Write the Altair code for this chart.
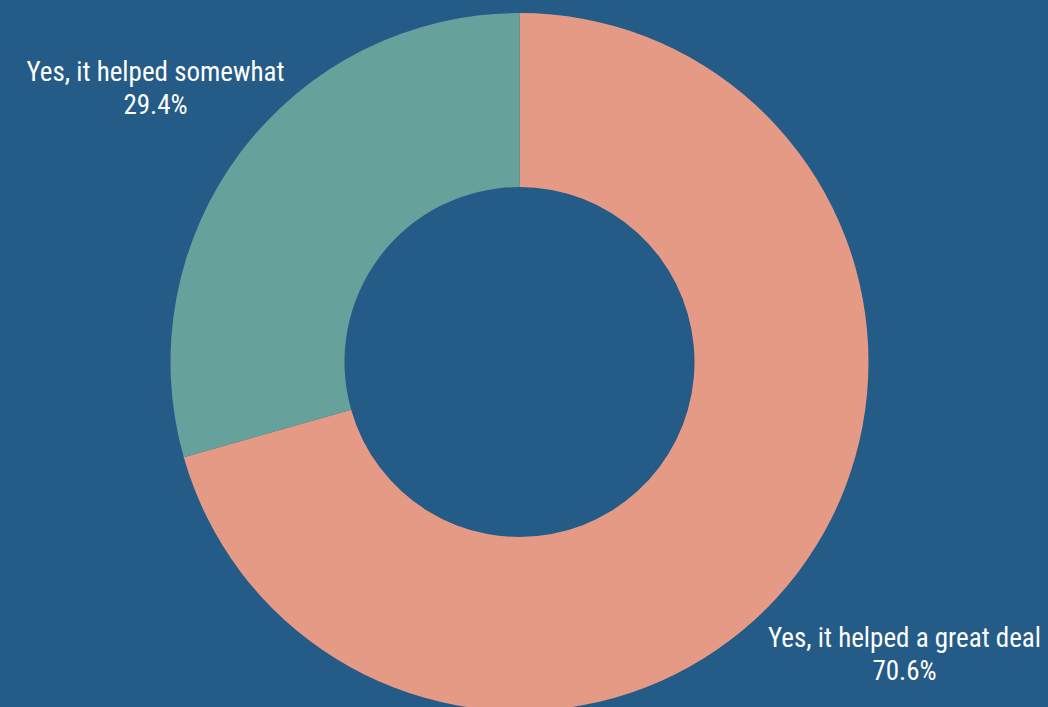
import altair as alt
import pandas as pd

categories = ["Yes, it helped a great deal", "Yes, it helped somewhat"]
values = [70.6, 29.4]
pct_labels = ["70.6%", "29.4%"]
colors = ["#e59a86", "#67a19c"]

df = pd.DataFrame({
    "category": categories,
    "value": values,
    "pct": pct_labels,
    "order": [0, 1],
})
df["label"] = [[c, p] for c, p in zip(categories, pct_labels)]

arcs = alt.Chart(df).mark_arc(outerRadius=349, innerRadius=175, stroke=None).encode(
    theta=alt.Theta("value:Q", stack=True),
    order=alt.Order("order:Q"),
    color=alt.Color("category:N", scale=alt.Scale(domain=categories, range=colors), legend=None),
)

FONT = "Liberation Sans Narrow, Roboto Condensed, Roboto"

text_base = alt.Chart(df).transform_window(
    cum="sum(value)", sort=[alt.SortField("order")]
).transform_joinaggregate(
    total="sum(value)"
).transform_calculate(
    mid="(datum.cum - datum.value / 2) / datum.total"
).encode(
    theta=alt.Theta("mid:Q", stack=None, scale=alt.Scale(domain=[0, 1])),
    text="label",
)

text_some = text_base.mark_text(
    radius=455, font=FONT, fontSize=27, color="white", lineHeight=33,
    align="center", baseline="middle", dx=-1, dy=-15,
).transform_filter(alt.datum.category == categories[1])

text_great = text_base.mark_text(
    radius=455, font=FONT, fontSize=27, color="white", lineHeight=33,
    align="center", baseline="middle", dx=22, dy=3,
).transform_filter(alt.datum.category == categories[0])

chart = alt.layer(arcs, text_some, text_great).resolve_scale(theta="independent").properties(
    width=1039, height=690,
    padding={"left": 0, "top": 17, "right": 9, "bottom": 0},
    autosize=alt.AutoSizeParams(type="none"),
    background="#245b87",
).configure_view(stroke=None)

chart.save("out.html", embed_options={"renderer": "svg", "actions": False})
